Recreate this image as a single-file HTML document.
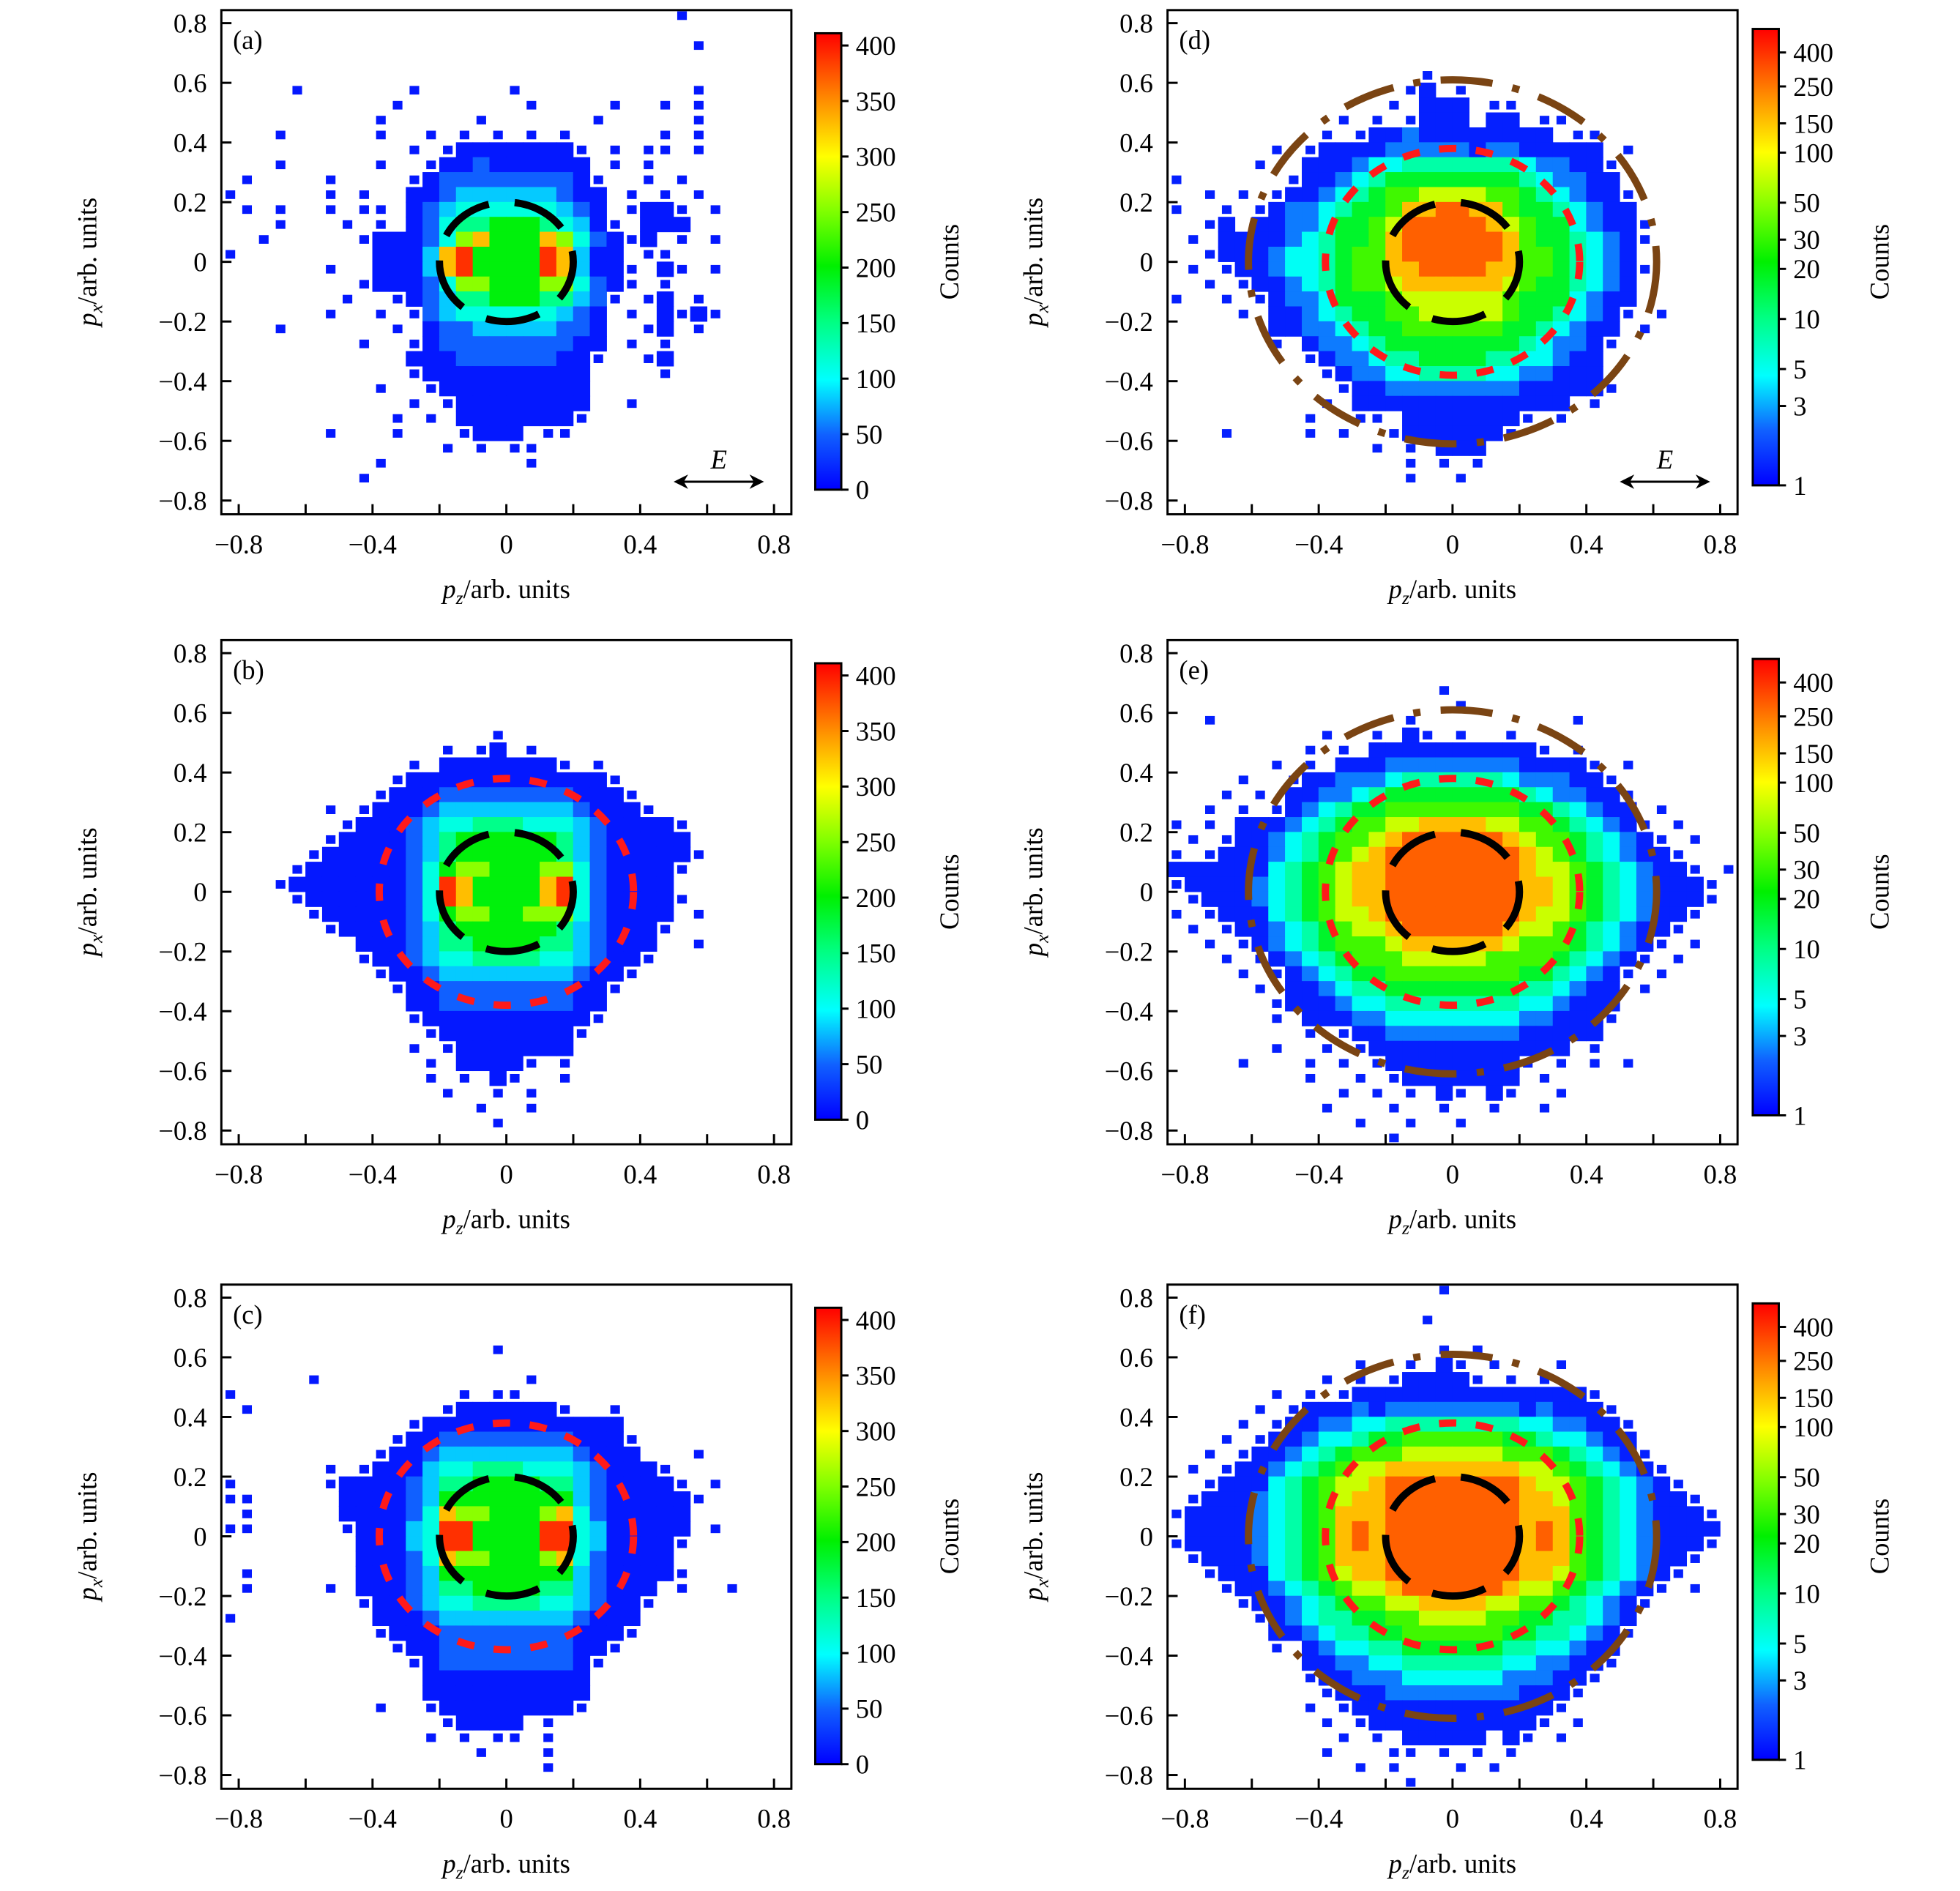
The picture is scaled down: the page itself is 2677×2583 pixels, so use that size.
<!DOCTYPE html>
<html><head><meta charset="utf-8"><style>
html,body{margin:0;padding:0;background:#fff;}
svg{display:block;font-family:"Liberation Serif",serif;}
</style></head><body>
<svg id="fig" width="2677" height="2583" viewBox="0 0 2677 2583" xmlns="http://www.w3.org/2000/svg">
<defs>
<linearGradient id="cmap" x1="0" y1="1" x2="0" y2="0">
<stop offset="0" stop-color="#0000ff"/><stop offset="0.12" stop-color="#1060ff"/>
<stop offset="0.24" stop-color="#00ffff"/><stop offset="0.37" stop-color="#00ff80"/>
<stop offset="0.49" stop-color="#00f000"/><stop offset="0.61" stop-color="#80ff00"/>
<stop offset="0.73" stop-color="#ffff00"/><stop offset="0.85" stop-color="#ff9000"/>
<stop offset="1" stop-color="#ff0000"/>
</linearGradient>
</defs>
<g id="root" transform="scale(0.988)"></g>
</svg>
<script>
// ---- data: binned counts, level codes per 0.05 bin (rows top->bottom y=0.825..-0.825, cols x=-0.825..0.825) ----
const binCenters = [-0.825,-0.775,-0.725,-0.675,-0.625,-0.575,-0.525,-0.475,-0.425,-0.375,-0.325,-0.275,-0.225,-0.175,-0.125,-0.075,-0.025,0.025,0.075,0.125,0.175,0.225,0.275,0.325,0.375,0.425,0.475,0.525,0.575,0.625,0.675,0.725,0.775,0.825];
const xTickValues = [-0.8,-0.6,-0.4,-0.2,0,0.2,0.4,0.6,0.8];
const xTickLabels = ["−0.8","","−0.4","","0","","0.4","","0.8"];
const yTickValues = [0.8,0.6,0.4,0.2,0,-0.2,-0.4,-0.6,-0.8];
const yTickLabels = ["0.8","0.6","0.4","0.2","0","−0.2","−0.4","−0.6","−0.8"];
const linCbarTicks = [0,50,100,150,200,250,300,350,400];
const logCbarTicks = [1,3,5,10,20,30,50,100,150,250,400];
const linLevelT = [0,0.03,0.12,0.2,0.27,0.36,0.48,0.62,0.8,0.95];
const logLevelT = [0,0.04,0.14,0.25,0.33,0.45,0.55,0.68,0.8,0.9];
const panelLabels = ["(a)","(b)","(c)","(d)","(e)","(f)"];
const innerRadius = [0.2,0.2,0.2,0.2,0.2,0.2];
const midRadius = [0,0.38,0.38,0.38,0.38,0.38];
const outerRadius = [0,0,0,0.61,0.61,0.61];

const gridA = [
"........ .... ..... ..... .... .1......","........ .... ..... ..... .... ........",
"........ .... ..... ..... .... ..1.....","........ .... ..... ..... .... ........",
"........ .... ..... ..... .... ........","....1... ...1 ..... 1.... .... ..1.....",
"........ ..1. ..... .1... .1.. 1.1.....","........ .1.. ...1. ..... 1... ..1.....",
"...1.... .1.. 1.1.1 .1.1. .... 1.1.....","........ ...1 .1111 11111 .1.1 1.1.....",
"...1.... .1.. 11121 11111 .1.1 ........",".1....1. ...1 12222 22221 1..1 .1......",
"1.....1. 1..1 12333 33321 1.1. 1.1.....",".1.1..1. 11.1 23444 44432 1.11 11.1....",
"...1...1 .1.1 24556 66543 11.1 11......","..1..... 1111 24786 66874 2111 .1.1....",
"1....... .111 38966 66983 11.1 1.......","......1. .111 38966 66983 111. 11.1....",
"........ 1111 24776 66774 211. 1.......",".......1 ..11 23556 66553 21.1 1.1.....",
"......1. .1.1 23444 44432 1.1. 1111....","...1.... ..1. 12233 33322 1..1 1.1.....",
"........ 1..1 12222 22221 1.1. 1.......","........ ...1 11222 22211 1..1 1.......",
"........ ...1 11111 11111 .... 1.......","........ .1.. 11111 11111 .... ........",
"........ ...1 .1111 11111 ..1. ........","........ ..1. 1.111 11111 .... ........",
"......1. ..1. ..111 1.11. .... ........","........ .... .1.1. 11... .... ........",
"........ .1.. ..... .1... .... ........","........ 1... ..... ..... .... ........",
"........ .... ..... ..... .... ........","........ .... ..... ..... .... ........"];
const gridB = [
"........ .... ..... ..... .... ........","........ .... ..... ..... .... ........",
"........ .... ..... ..... .... ........","........ .... ..... ..... .... ........",
"........ .... ..... ..... .... ........","........ .... ..... ..... .... ........",
"........ .... ....1 ..... .... ........","........ .... .1.11 .1... .... ........",
"........ ...1 .1111 1111. 1... ........","........ ..11 11111 11111 11.. ........",
"........ .111 12222 22221 111. ........","......1. 1111 23333 33332 1111 ........",
".......1 1112 34455 54443 2111 11......","......11 1112 35666 66653 2111 11......",
".....111 1112 35666 66653 2111 111.....","....1111 1112 46776 66774 2111 11......",
"...11111 1112 49866 66894 2111 1.......","....1111 1112 49866 66894 2111 11......",
".....111 1112 46776 67774 2111 1.1.....","......11 1112 35666 66653 2111 1.......",
"........ 1112 35566 66553 2111 ..1.....","........ 1112 34455 55443 2111 ........",
"........ .111 23333 33332 111. ........","........ ..11 12222 22221 11.. ........",
"........ ...1 12222 22221 1... ........","........ ...1 11111 11111 1... ........",
"........ .... 11111 11111 .... ........","........ ...1 .1111 1111. .... ........",
"........ .... 1.111 11.1. .... ........","........ .... 1.1.1 1..1. .... ........",
"........ .... .1..1 .1... .... ........","........ .... ...1. .1... .... ........",
"........ .... ....1 ..... .... ........","........ .... ..... ..... .... ........"];
const gridC = [
"........ .... ..... ..... .... ........","........ .... ..... ..... .... ........",
"........ .... ..... ..... .... ........","........ .... ..... ..... .... ........",
"........ .... ....1 ..... .... ........","........ .... ..... ..... .... ........",
".....1.. .... ..... .1... .... ........","1....... .... ..1.1 1.... .... ........",
".1...... .... .1111 1111. .1.. ........","........ ...1 11111 11111 11.. ........",
"........ ..11 12222 22221 111. ........","........ .111 23333 33332 111. ..1.....",
"......1. 1111 34455 54443 2111 1.......","1.....11 1112 35566 66553 2111 11.1....",
"11.....1 1112 36666 66663 2111 111.....",".1.....1 1112 48776 66784 2111 11......",
"11.....1 1113 49966 66994 3111 11.1....","........ 1113 49966 66994 3111 11......",
"........ 1112 48776 66784 2111 1.......",".1...... 1112 36666 66663 2111 11......",
".1....1. 1112 35566 66553 2111 .1..1...","........ 1112 34455 55443 2111 ........",
"1....... .111 23333 33332 111. ........","........ .111 12222 22221 111. ........",
"........ ..11 12222 22221 11.. ........","........ ...1 12222 22221 1... ........",
"........ .... 11111 11111 .... ........","........ .... 11111 11111 .... ........",
"........ .1.. 11111 11111 .... ........","........ .... .1111 1.1.. .... ........",
"........ .... 1.1.1 1.1.. .... ........","........ .... ...1. ..1.. .... ........",
"........ .... ..... ..1.. .... ........","........ .... ..... ..... .... ........"];
const gridD = [
"........ .... ..... ..... .... ........","........ .... ..... ..... .... ........",
"........ .... ..... ..... .... ........","........ .... ..... ..... .... ........",
"........ .... ...1. ..... .... ........","........ .... ..11. 1.... .... ........",
"........ .... .1.11 1.11. .... ........","........ ..1. 1.111 1.11. 11.. ........",
"........ .1.1 11211 11111 1.11 ........","......1. 1111 12222 21221 1111 .1......",
".....1.. 1112 33444 44443 2211 1.......","1......1 1123 45555 55554 3221 1.......",
"..1.1.11 1234 56677 77665 4321 11......","1..1.112 2345 56889 98865 5432 11......",
"..11.112 2355 67999 99876 5532 111.....",".1.11112 3455 68999 99986 5543 211.....",
"..111123 3456 68999 99986 6543 21......",".1.11123 3456 68899 99886 6543 211.....",
"..1.1112 3456 67888 88876 5543 21......","1..1.112 2355 56777 77765 5532 11......",
"....1.11 2345 56677 77765 5432 11.1....","......11 2234 55666 66655 4321 1.1.....",
"......1. 1223 45555 55554 3221 1.......","........ 1122 34455 55443 3211 ........",
"........ .112 23344 44332 2111 ........","........ ..11 12222 22221 1111 1.......",
"........ .1.1 11111 11111 11.1 ........","........ 1..1 1.111 11111 .1.. ........",
"...1.... 1.1. .1111 1111. .... ........","........ .... 1.1.1 11... .... ........",
"........ .... ..1.1 .1... .... ........","........ .... ..1.. 1.... .... ........",
"........ .... ..... ..... .... ........","........ .... ..... ..... .... ........"];
const gridE = [
"........ .... ..... ..... .... ........","........ .... ..... ..... .... ........",
"........ .... ..... ..... .... ........","........ .... ....1 ..... .... ........",
"........ .... ..... 1.... .... ........","..1..... .... ..1.. ..... ..1. ........",
"........ .1.. 1.11. 1..1. .... ........","........ 1.1. 11111 11111 1.1. ........",
"......1. 1.11 12222 22221 1111 .1......","....1..1 1122 23444 44432 2211 1.......",
"...1.1.1 1223 45555 55554 3221 11......","..1.1.11 2345 56666 66665 5432 11.1....",
"1.1.1112 3456 67788 88776 6543 211.1...",".1.11123 4566 78999 99987 6654 3211.1..",
"1.111123 4567 89999 99998 7654 32111...","11111134 5678 89999 99998 7765 432111.1",
"11111234 5678 89999 99998 8765 4321111.",".1111234 5678 89999 99998 8765 4321111.",
"1.111134 5677 89999 99998 7765 432111..",".1.11123 4567 78999 99987 7654 32111...",
"..1.1123 4566 67888 88876 6654 3211.1..","...1.112 3456 66777 77666 6543 211.1...",
"....1.11 2345 56666 66665 5432 11.1....",".....1.1 1234 45555 55554 4321 1.1.....",
"......11 1123 34444 44443 3211 1.......","......1. 1112 23333 33332 2111 1.......",
"........ 1.11 12222 22221 1111 ........","......1. .1.1 11111 11111 11.1 ........",
"....1... 1.1. 11111 11111 .1.1 .1......","........ 1..1 .1111 1111. 1... ........",
"........ ..1. 1.1.1 1.11. .1.. ........","........ .1.. .1..1 ..1.. 1... ........",
"........ ...1 ..1.. 1.... .... ........","........ .... .1... ..... .... ........"];
const gridF = [
"........ .... ....1 ..... .... ........","........ .... ..... ..... .... ........",
"........ .... ...1. ..... .... ........","........ .... ..... ..... .... ........",
"........ .... ....1 .1... .... ........","........ ...1 ..1.1 1.1.. .1.. ........",
"........ .1.1 .1111 11.1. 1... ........","......1. 1.11 11111 11111 1111 ........",
".....1.1 1112 12222 22221 2111 1.......","....1.11 1223 34444 44443 3221 11......",
"...1.111 2334 55666 66655 4332 11......","..1.1112 3456 66777 77766 6543 211.....",
".1.11123 4567 78888 88887 7654 3211....","..111134 5677 89999 99998 7765 43211...",
".1111234 5678 89999 99998 8765 432111..","11111234 5688 89999 99998 8865 4321111.",
".1111234 5689 89999 99998 9865 4321111.","11111234 5689 89999 99998 9865 4321111.",
".1111234 5688 89999 99998 8865 432111..","..111134 5678 89999 99998 8765 43211...",
"...11123 4567 78999 99987 7654 3211.1..","....1112 3456 67788 88776 6543 211.....",
".....112 3445 56677 77665 5443 21......","......11 2344 55666 66655 4432 11......",
"......1. 1233 44555 55544 3321 1.......","........ 1122 33444 44433 2211 1.......",
"........ 1112 22333 33322 2111 ........","........ .111 12222 22221 111. ........",
"........ 1.11 11111 11111 11.. ........","........ .1.1 11111 11111 1.1. ........",
"........ ..1. 1.111 11.11 .1.. ........","........ .1.. .11.1 .1.1. .... ........",
"........ ...1 .1... 1.1.. .... ........","........ .... ..1.. ..... .... ........"];

const svg = document.getElementById('root');
const NS = 'http://www.w3.org/2000/svg';
function mk(tag, attrs, parent){const e=document.createElementNS(NS,tag);for(const k in attrs)e.setAttribute(k,attrs[k]);parent.appendChild(e);return e;}
const stops=[[0,[0,0,255]],[0.12,[16,96,255]],[0.24,[0,255,255]],[0.37,[0,255,128]],[0.49,[0,240,0]],[0.61,[128,255,0]],[0.73,[255,255,0]],[0.85,[255,144,0]],[1,[255,0,0]]];
function cmap(t){for(let i=1;i<stops.length;i++){if(t<=stops[i][0]){const a=stops[i-1],b=stops[i];const f=(t-a[0])/(b[0]-a[0]);const c=a[1].map((v,k)=>Math.round(v+(b[1][k]-v)*f));return 'rgb('+c.join(',')+')';}}return 'rgb(255,0,0)';}

const grids=[gridA,gridB,gridC,gridD,gridE,gridF];
const colOff=[0,0,0,1308,1308,1308];
const rowOff=[0,871,1762,0,871,1762];
const BW=0.05;

grids.forEach((grid,p)=>{
  const g=mk('g',{transform:'translate('+colOff[p]+','+rowOff[p]+')'},svg);
  
  
  const isLog=p>=3;
  const X=v=>700+v*462.5, Y=v=>362-v*412.5;
  const hm=mk('g',{},g);
  
  
  const rows=grid.map(r=>r.replace(/ /g,''));
  const lvAt=(j,i)=>{if(j<0||j>=rows.length||i<0||i>=rows[j].length)return 0;const c=rows[j][i];return c==='.'?0:parseInt(c,10);};
  rows.forEach((s,j)=>{
    const yc=binCenters[binCenters.length-1-j];
    for(let i=0;i<binCenters.length&&i<s.length;i++){
      const lv=lvAt(j,i); if(!lv)continue;
      const t=(isLog?logLevelT:linLevelT)[lv];
      const xc=binCenters[i];
      let full=0;for(const [dj,di] of [[-1,0],[1,0],[0,-1],[0,1]]){if(lvAt(j+dj,i+di)>=1)full++;}
      const strong=lv>=2 || full>=3;
      const f=strong?1:0.55;
      const w=BW*462.5*f+0.6, h=BW*412.5*f+0.6;
      const r=mk('rect',{x:(X(xc)-w/2).toFixed(1),y:(Y(yc)-h/2).toFixed(1),width:w.toFixed(1),height:h.toFixed(1),fill:cmap(t)},hm);
      
      
    }
  });
  const c1=mk('ellipse',{cx:X(0),cy:Y(0),rx:innerRadius[p]*462.5,ry:innerRadius[p]*412.5,fill:'none',stroke:'#000','stroke-width':10,'stroke-dasharray':'75 36','stroke-dashoffset':20},g);
  
  
  if(midRadius[p]>0){
    const c2=mk('ellipse',{cx:X(0),cy:Y(0),rx:midRadius[p]*462.5,ry:midRadius[p]*412.5,fill:'none',stroke:'#ff1a1a','stroke-width':10,'stroke-dasharray':'24 27'},g);
    
    
  }
  if(outerRadius[p]>0){
    const c3=mk('ellipse',{cx:X(0),cy:Y(0),rx:outerRadius[p]*462.5,ry:outerRadius[p]*412.5,fill:'none',stroke:'#7a4413','stroke-width':10,'stroke-dasharray':'72 28 10 28'},g);
    
    
  }
  const fr=mk('rect',{x:306,y:14,width:788,height:697,fill:'none',stroke:'#000','stroke-width':3},g);
  
  
  xTickValues.forEach((v,k)=>{
    const tl=mk('line',{x1:X(v),x2:X(v),y1:711,y2:697,stroke:'#000','stroke-width':3},g);
    
    
    if(xTickLabels[k]){
      const t=mk('text',{x:X(v),y:765,'font-size':37,'text-anchor':'middle'},g);t.textContent=xTickLabels[k];
      
      
    }
  });
  yTickValues.forEach((v,k)=>{
    const tl=mk('line',{x1:306,x2:320,y1:Y(v),y2:Y(v),stroke:'#000','stroke-width':3},g);
    
    
    const t=mk('text',{x:286,y:Y(v)+13,'font-size':37,'text-anchor':'end'},g);t.textContent=yTickLabels[k];
    
    
  });
  const xt=mk('text',{x:700,y:827,'font-size':37,'text-anchor':'middle'},g);
  xt.innerHTML='<tspan font-style="italic">p</tspan><tspan font-style="italic" font-size="26" dy="8">z</tspan><tspan dy="-8">/arb. units</tspan>';
  
  
  const yt=mk('text',{x:0,y:0,'font-size':37,'text-anchor':'middle',transform:'translate(133,362) rotate(-90)'},g);
  yt.innerHTML='<tspan font-style="italic">p</tspan><tspan font-style="italic" font-size="26" dy="8">x</tspan><tspan dy="-8">/arb. units</tspan>';
  
  
  const pl=mk('text',{x:322,y:68,'font-size':37},g);pl.textContent=panelLabels[p];
  
  
  if(p===0||p===3){
    const ar=mk('g',{},g);
    
    
    mk('line',{x1:X(0.5)+6,x2:X(0.77)-6,y1:Y(-0.737),y2:Y(-0.737),stroke:'#000','stroke-width':3},ar);
    mk('path',{d:'M'+X(0.5)+','+Y(-0.737)+' l20,-10 l-6,10 l6,10 z',fill:'#000'},ar);
    mk('path',{d:'M'+X(0.77)+','+Y(-0.737)+' l-20,-10 l6,10 l-6,10 z',fill:'#000'},ar);
    const et=mk('text',{x:X(0.635),y:Y(-0.737)-18,'font-size':37,'font-style':'italic','text-anchor':'middle'},ar);et.textContent='E';
  }
  const cb=mk('g',{},g);
  
  
  const top=isLog?40:46, bot=isLog?671:677, cx0=isLog?1115:1127, cw=36;
  mk('rect',{x:cx0,y:top,width:cw,height:bot-top,fill:'url(#cmap)',stroke:'#000','stroke-width':3},cb);
  const ticks=isLog?logCbarTicks:linCbarTicks;
  ticks.forEach(v=>{
    const yy=isLog?bot-Math.log10(v)*230:bot-v/411*(bot-top);
    mk('line',{x1:cx0+cw,x2:cx0+cw+10,y1:yy,y2:yy,stroke:'#000','stroke-width':3},cb);
    const t=mk('text',{x:cx0+cw+20,y:yy+13,'font-size':37},cb);t.textContent=String(v);
    
    
  });
  const ct=mk('text',{x:0,y:0,'font-size':37,'text-anchor':'middle',transform:'translate('+(isLog?1303:1325)+',362) rotate(-90)'},cb);ct.textContent='Counts';
  
  
});
</script>
</body></html>
